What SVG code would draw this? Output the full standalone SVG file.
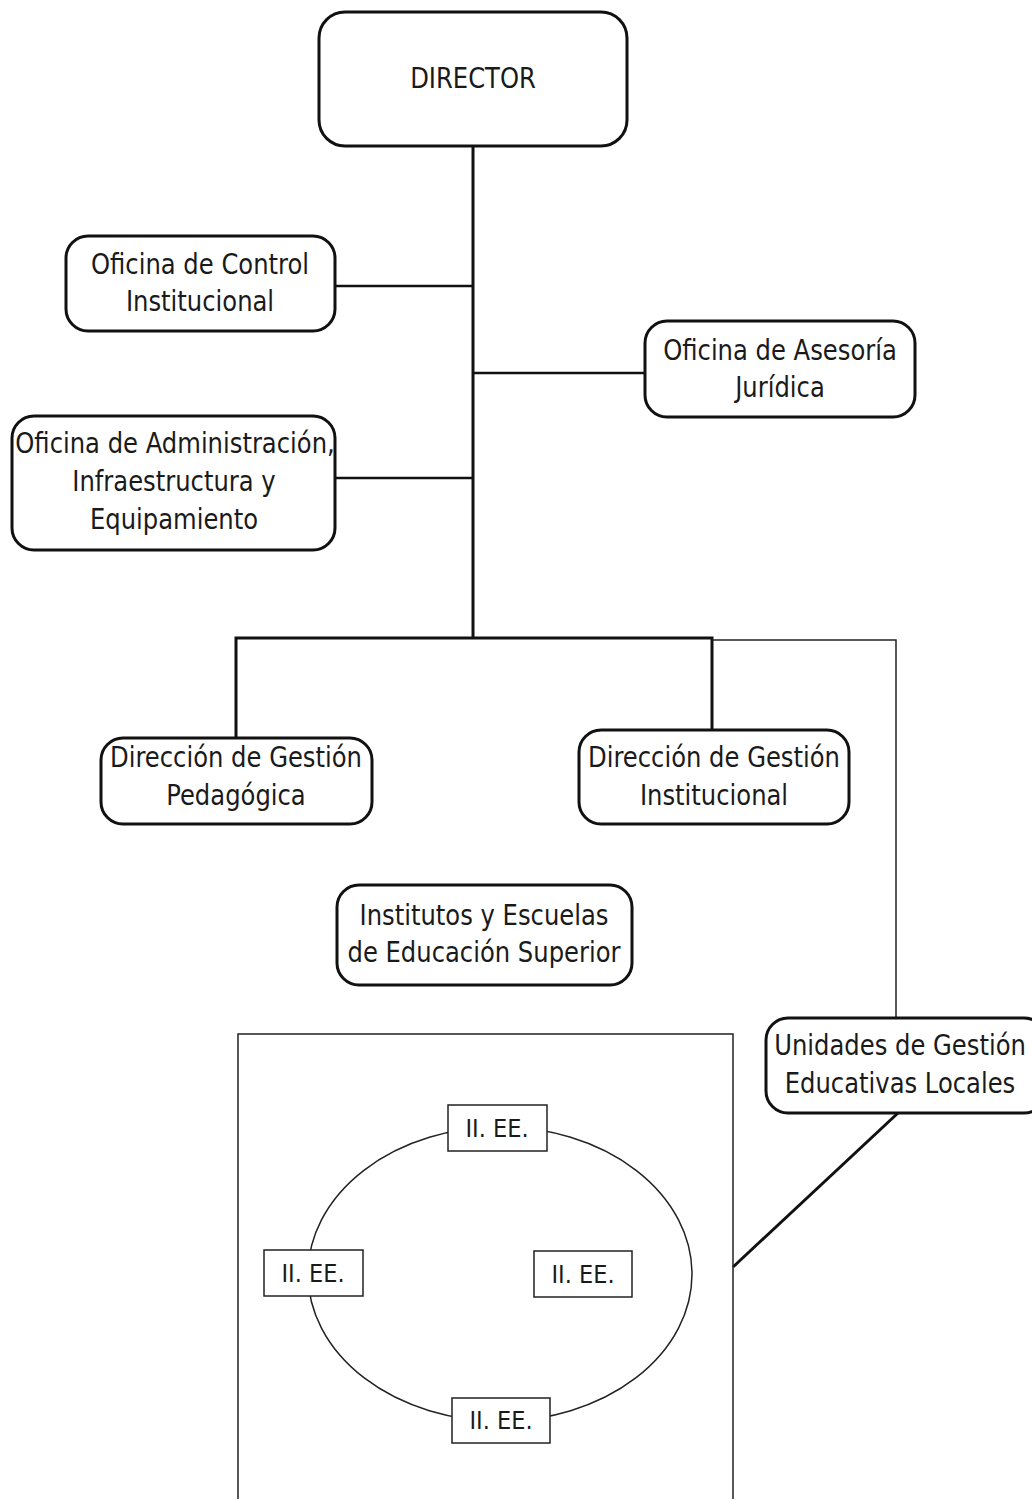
<svg xmlns="http://www.w3.org/2000/svg" width="1032" height="1499" viewBox="0 0 1032 1499">
<style>
.box{fill:#fff;stroke:#111;stroke-width:3}
.t{font-family:"DejaVu Sans Condensed","DejaVu Sans",sans-serif;font-size:29px;fill:#1a1a1a;text-anchor:middle}
.s{font-family:"DejaVu Sans Condensed","DejaVu Sans",sans-serif;font-size:25px;fill:#1a1a1a;text-anchor:middle}
.ie{fill:#fff;stroke:#222;stroke-width:1.5}
.thick{stroke:#111;stroke-width:3;fill:none}
.mid{stroke:#111;stroke-width:2.5;fill:none}
.thin{stroke:#222;stroke-width:1.5;fill:none}
</style>
<rect width="1032" height="1499" fill="#fff"/>
<g id="connectors">
<line class="thick" x1="473" y1="146" x2="473" y2="639"/>
<line class="mid" x1="335" y1="286" x2="473" y2="286"/>
<line class="mid" x1="473" y1="373" x2="645" y2="373"/>
<line class="mid" x1="335" y1="478" x2="473" y2="478"/>
<polyline class="thick" points="236,738 236,638 712,638 712,730"/>
<polyline class="thin" points="712,640 896,640 896,1018"/>
<line class="thick" x1="733" y1="1267" x2="898" y2="1113"/>
<ellipse class="thin" cx="500" cy="1274" rx="192" ry="147" stroke-width="1.2"/>
</g>
<g id="frame"><polyline class="thin" points="238,1499 238,1034 733,1034 733,1499"/></g>
<g id="director"><rect class="box" x="319" y="12" width="308" height="134" rx="26"/><text class="t" transform="matrix(0.93 0 0 1 473 88)">DIRECTOR</text></g>
<g id="control"><rect class="box" x="66" y="236" width="269" height="95" rx="22"/><text class="t" transform="matrix(0.93 0 0 1 200 274)">Oficina de Control</text><text class="t" transform="matrix(0.93 0 0 1 200 311)">Institucional</text></g>
<g id="asesoria"><rect class="box" x="645" y="321" width="270" height="96" rx="22"/><text class="t" transform="matrix(0.93 0 0 1 780 360)">Oficina de Asesoría</text><text class="t" transform="matrix(0.93 0 0 1 780 397)">Jurídica</text></g>
<g id="administracion"><rect class="box" x="12" y="416" width="323" height="134" rx="22"/><text class="t" transform="matrix(0.93 0 0 1 175 453)">Oficina de Administración,</text><text class="t" transform="matrix(0.93 0 0 1 174 491)">Infraestructura y</text><text class="t" transform="matrix(0.93 0 0 1 174 529)">Equipamiento</text></g>
<g id="pedagogica"><rect class="box" x="101" y="738" width="271" height="86" rx="22"/><text class="t" transform="matrix(0.93 0 0 1 236 767)">Dirección de Gestión</text><text class="t" transform="matrix(0.93 0 0 1 236 805)">Pedagógica</text></g>
<g id="institucional"><rect class="box" x="579" y="730" width="270" height="94" rx="22"/><text class="t" transform="matrix(0.93 0 0 1 714 767)">Dirección de Gestión</text><text class="t" transform="matrix(0.93 0 0 1 714 805)">Institucional</text></g>
<g id="institutos"><rect class="box" x="337" y="885" width="295" height="100" rx="22"/><text class="t" transform="matrix(0.93 0 0 1 484 925)">Institutos y Escuelas</text><text class="t" transform="matrix(0.93 0 0 1 484 962)">de Educación Superior</text></g>
<g id="ugel"><rect class="box" x="766" y="1018" width="280" height="95" rx="22"/><text class="t" transform="matrix(0.93 0 0 1 900 1055)">Unidades de Gestión</text><text class="t" transform="matrix(0.93 0 0 1 900 1093)">Educativas Locales</text></g>
<g id="ie-top"><rect class="ie" x="448" y="1105" width="99" height="46"/><text class="s" x="497" y="1137">II. EE.</text></g>
<g id="ie-left"><rect class="ie" x="264" y="1250" width="99" height="46"/><text class="s" x="313" y="1282">II. EE.</text></g>
<g id="ie-right"><rect class="ie" x="534" y="1251" width="98" height="46"/><text class="s" x="583" y="1283">II. EE.</text></g>
<g id="ie-bottom"><rect class="ie" x="452" y="1398" width="98" height="45"/><text class="s" x="501" y="1429">II. EE.</text></g>
</svg>
